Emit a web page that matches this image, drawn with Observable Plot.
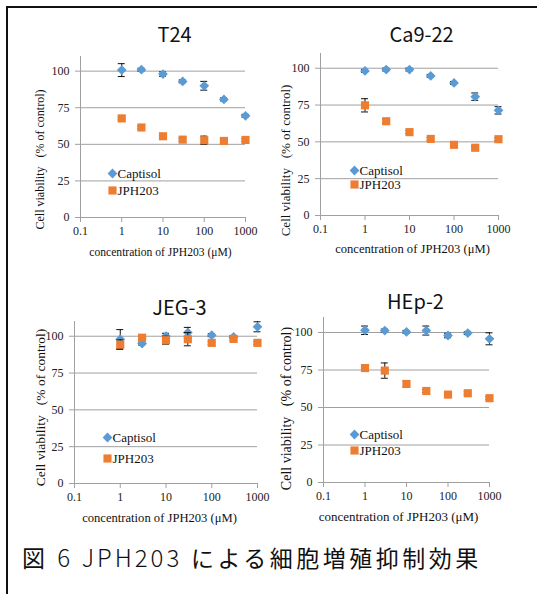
<!DOCTYPE html>
<html><head><meta charset="utf-8">
<script src="https://cdn.jsdelivr.net/npm/d3@7"></script>
<script src="https://cdn.jsdelivr.net/npm/@observablehq/plot@0.6"></script>
<style>
html,body{margin:0;padding:0;background:#fff;}
#root{position:relative;width:537px;height:594px;overflow:hidden;background:#fff;}
#frame{position:absolute;left:6px;top:6px;width:600px;height:700px;border-left:2px solid #111;border-top:2px solid #111;}
.panel{position:absolute;}
.panel svg{overflow:visible;display:block;}
.panel svg [aria-label^="x-axis"] line,.panel svg [aria-label^="x-axis"] path,
.panel svg [aria-label^="y-axis"] line,.panel svg [aria-label^="y-axis"] path{stroke:#a0a0a0;}
.panel svg g[aria-label="panel-title"] text{letter-spacing:2px;font-weight:300;}
#caption{position:absolute;left:22px;top:544px;font-family:"Noto Sans CJK JP",sans-serif;font-size:23px;line-height:26px;letter-spacing:3.5px;color:#111;white-space:pre;font-weight:400;}
#caption .lat{font-family:"Noto Sans CJK JP",sans-serif;font-size:24px;letter-spacing:3px;font-weight:300;}
</style>
</head><body>
<div id="root"><div id="frame"></div><div id="caption"></div></div>
<script>
// ---- data ----
const concentrations = [1, 3, 10, 30, 100, 300, 1000];
const seriesNames = ["Captisol", "JPH203"];
const cellLines = ["T24", "Ca9-22", "JEG-3", "HEp-2"];

const t24Captisol     = [100.7, 101, 98, 93, 90, 80.7, 69.5];
const t24CaptisolErr  = [4.4, 1, 1.5, 1, 3, 1, 1];
const t24JPH203       = [67.7, 61.5, 55.5, 53.2, 52.8, 52.3, 53];
const t24JPH203Err    = [1, 1, 1, 1, 2.8, 1.5, 1];

const ca922Captisol    = [98.2, 99.1, 99.1, 94.8, 90, 80.7, 71.4];
const ca922CaptisolErr = [1, 1, 1, 1, 1, 2.5, 2.5];
const ca922JPH203      = [74.8, 64, 56.6, 52, 48, 46, 51.8];
const ca922JPH203Err   = [4.5, 1.5, 1, 1, 1, 1, 1];

const jeg3Captisol    = [98, 95, 100, 102.5, 100.7, 99.5, 106.4];
const jeg3CaptisolErr = [6.5, 1, 2, 3.5, 1, 1, 3.4];
const jeg3JPH203      = [94.3, 99, 97.3, 98, 95.5, 98.2, 95.5];
const jeg3JPH203Err   = [3.2, 1, 2.7, 4.5, 1, 1, 1];

const hep2Captisol    = [101.5, 101.3, 100.4, 101.3, 98, 99.6, 95.8];
const hep2CaptisolErr = [2.8, 1, 1, 3, 1.5, 1, 4];
const hep2JPH203      = [76.3, 74.6, 65.7, 61, 58.6, 59.5, 56.2];
const hep2JPH203Err   = [1, 5.1, 2, 1, 1, 1, 1];

const xTicks = [0.1, 1, 10, 100, 1000];
const xTickLabels = ["0.1", "1", "10", "100", "1000"];
const yTicks = [0, 25, 50, 75, 100];
const yTickLabels = ["0", "25", "50", "75", "100"];
const yLabel = "Cell viability\u00a0\u00a0\u00a0(% of control)";
const xLabel = "concentration of JPH203 (\u03bcM)";
const captionParts = ["図 ", "6", " ", "JPH203", " による細胞増殖抑制効果"];

// ---- layout / style ----
const colors = {Captisol: "#5B9BD5", JPH203: "#ED7D31"};
const layout = [
  {left:0,   top:0,   width:268, height:270, ml:80, mr:23, mt:56, mb:53, title:[11.5,-21], ylab:[-40,22.5,12],  xlab:[-2.5,35,11.6], leg:[32,117,134]},
  {left:268, top:0,   width:269, height:270, ml:52, mr:39, mt:53, mb:55, title:[12,-18],   ylab:[-35,26,13],    xlab:[3,33,12.6],    leg:[34,117,131]},
  {left:0,   top:270, width:268, height:260, ml:74, mr:11, mt:51, mb:47, title:[13.5,-13], ylab:[-34,5,13.5],   xlab:[-6.5,34,12.6], leg:[33,116,137]},
  {left:268, top:270, width:269, height:260, ml:55, mr:48, mt:47, mb:48, title:[9,-15],    ylab:[-37,8.5,14],   xlab:[-8,34,13],     leg:[31,117,133]}
];
const panelData = [
  [t24Captisol, t24CaptisolErr, t24JPH203, t24JPH203Err],
  [ca922Captisol, ca922CaptisolErr, ca922JPH203, ca922JPH203Err],
  [jeg3Captisol, jeg3CaptisolErr, jeg3JPH203, jeg3JPH203Err],
  [hep2Captisol, hep2CaptisolErr, hep2JPH203, hep2JPH203Err]
];

const serif = "'Liberation Serif','Times New Roman',serif";
const sans = "'Noto Sans CJK JP','Noto Sans',sans-serif";

function rows(vals, errs, name) {
  return concentrations.map((c, i) => ({x: c, y: vals[i], e: errs[i], s: name}));
}

function makePanel(k) {
  const L = layout[k];
  const [cv, ce, jv, je] = panelData[k];
  const cap = rows(cv, ce, seriesNames[0]);
  const jph = rows(jv, je, seriesNames[1]);
  const errMarks = (d) => [
    Plot.ruleX(d, {x: "x", y1: r => r.y - r.e, y2: r => r.y + r.e, stroke: "#111", strokeWidth: 1}),
    Plot.ruleY(d, {y: r => r.y + r.e, x1: "x", x2: "x", insetLeft: -3.5, insetRight: -3.5, stroke: "#111", strokeWidth: 1}),
    Plot.ruleY(d, {y: r => r.y - r.e, x1: "x", x2: "x", insetLeft: -3.5, insetRight: -3.5, stroke: "#111", strokeWidth: 1})
  ];
  const label = (txt, o) => Plot.text([txt], {x: null, y: null, text: d => d, lineAnchor: "middle", fill: "#111", ...o});
  const svg = Plot.plot({
    width: L.width, height: L.height,
    marginLeft: L.ml, marginRight: L.mr, marginTop: L.mt, marginBottom: L.mb,
    style: {background: "transparent", fontFamily: serif, fontSize: "12px", color: "#222", overflow: "visible"},
    x: {type: "log", domain: [0.1, 1000], ticks: xTicks, tickFormat: d => xTickLabels[xTicks.indexOf(d)], tickSize: 5, tickPadding: 4, label: null},
    y: {domain: [0, 110], ticks: yTicks, tickFormat: d => yTickLabels[yTicks.indexOf(d)], tickSize: 5, tickPadding: 6, label: null},
    marks: [
      Plot.ruleY(yTicks, {y: d => d, stroke: "#a0a0a0"}),
      Plot.ruleX([xTicks[0]], {x: d => d, stroke: "#a0a0a0"}),
      ...errMarks(cap),
      Plot.dot(cap, {x: "x", y: "y", symbol: "diamond2", r: 4.4, fill: colors.Captisol}),
      ...errMarks(jph),
      Plot.dot(jph, {x: "x", y: "y", symbol: "square", r: 4.6, fill: colors.JPH203}),
      // legend
      Plot.dot([seriesNames[0]], {x: null, y: null, frameAnchor: "top-left", dx: L.leg[0], dy: L.leg[1], symbol: "diamond2", r: 4.4, fill: colors.Captisol}),
      Plot.dot([seriesNames[1]], {x: null, y: null, frameAnchor: "top-left", dx: L.leg[0], dy: L.leg[2], symbol: "square", r: 4.6, fill: colors.JPH203}),
      label(seriesNames[0], {frameAnchor: "top-left", dx: L.leg[0] + 5, dy: L.leg[1], textAnchor: "start", fontFamily: serif, fontSize: 13}),
      label(seriesNames[1], {frameAnchor: "top-left", dx: L.leg[0] + 5, dy: L.leg[2], textAnchor: "start", fontFamily: serif, fontSize: 13}),
      // title
      label(cellLines[k], {frameAnchor: "top", dx: L.title[0], dy: L.title[1], textAnchor: "middle", fontFamily: sans, fontSize: 20, ariaLabel: "panel-title"}),
      // axis labels
      label(yLabel, {frameAnchor: "left", rotate: -90, dx: L.ylab[0], dy: L.ylab[1], textAnchor: "middle", fontFamily: serif, fontSize: L.ylab[2]}),
      label(xLabel, {frameAnchor: "bottom", dx: L.xlab[0], dy: L.xlab[1], textAnchor: "middle", fontFamily: serif, fontSize: L.xlab[2]})
    ]
  });
  const div = document.createElement("div");
  div.className = "panel";
  div.style.left = L.left + "px";
  div.style.top = L.top + "px";
  div.style.width = L.width + "px";
  div.style.height = L.height + "px";
  div.appendChild(svg);
  document.getElementById("root").appendChild(div);
}

for (let k = 0; k < 4; k++) makePanel(k);

const capDiv = document.getElementById("caption");
captionParts.forEach((p, i) => {
  const s = document.createElement("span");
  if (i === 1 || i === 3) s.className = "lat";
  s.textContent = p;
  capDiv.appendChild(s);
});
</script>
</body></html>
